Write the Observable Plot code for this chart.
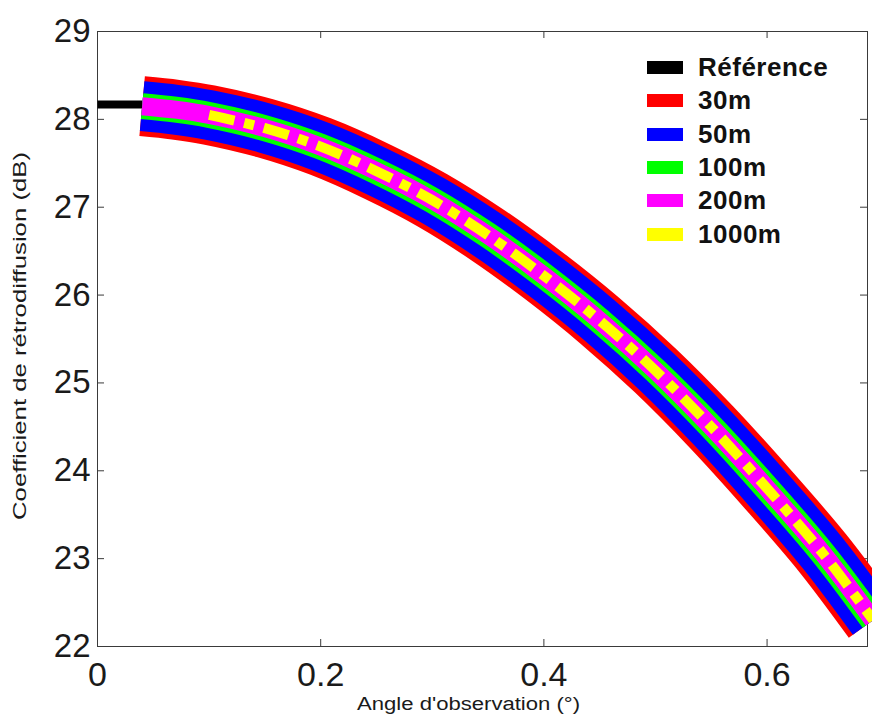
<!DOCTYPE html>
<html>
<head>
<meta charset="utf-8">
<script src="https://cdn.jsdelivr.net/npm/d3@7"></script>
<script src="https://cdn.jsdelivr.net/npm/@observablehq/plot@0.6"></script>
<style>
  html, body { margin: 0; padding: 0; background: #fff; }
  #wrap { position: relative; width: 872px; height: 722px; }
  #legend { position: absolute; left: 647px; top: 51px; font-family: "Liberation Sans", Arial, sans-serif; font-weight: bold; font-size: 26px; letter-spacing: 0.5px; color: #111; }
  #legend .row { height: 33.3px; display: flex; align-items: center; }
  #legend .sw { width: 36px; height: 13px; margin-right: 15px; }
</style>
</head>
<body>
<div id="wrap"><div id="legend"></div></div>
<script>
// ---- data ----
const refAngles = [0, 0.04];
const refCoef = [28.17, 28.17];

// distances 30m, 50m, 100m, 200m share the same curve (overlapping bands)
const angles = [0.04, 0.07, 0.10, 0.15, 0.20, 0.25, 0.30, 0.35, 0.40, 0.45, 0.50, 0.55, 0.60, 0.65, 0.695];
const coef30 = [28.15, 28.11, 28.05, 27.90, 27.69, 27.41, 27.08, 26.68, 26.22, 25.71, 25.14, 24.50, 23.80, 23.06, 22.30];
const coef50 = [28.15, 28.11, 28.05, 27.90, 27.69, 27.41, 27.08, 26.68, 26.22, 25.71, 25.14, 24.50, 23.80, 23.06, 22.30];
const coef100 = [28.15, 28.11, 28.05, 27.90, 27.69, 27.41, 27.08, 26.68, 26.22, 25.71, 25.14, 24.50, 23.80, 23.06, 22.30];
const coef200 = [28.15, 28.11, 28.05, 27.90, 27.69, 27.41, 27.08, 26.68, 26.22, 25.71, 25.14, 24.50, 23.80, 23.06, 22.30];
const angles1000 = [0.10, 0.15, 0.20, 0.25, 0.30, 0.35, 0.40, 0.45, 0.50, 0.55, 0.60, 0.65, 0.695];
const coef1000 = [28.05, 27.90, 27.69, 27.41, 27.08, 26.68, 26.22, 25.71, 25.14, 24.50, 23.80, 23.06, 22.30];

const xTicks = [0, 0.2, 0.4, 0.6];
const yTicks = [22, 23, 24, 25, 26, 27, 28, 29];
const legendNames = ["Référence", "30m", "50m", "100m", "200m", "1000m"];
const xLabel = "Angle d'observation (°)";
const yLabel = "Coefficient de rétrodiffusion (dB)";

// ---- styles ----
const legendColors = ["#000000", "#ff0000", "#0000ff", "#00ff00", "#ff00ff", "#ffff00"];

const toRows = (xs, ys) => xs.map((x, i) => ({x, y: ys[i]}));

const W = 872, H = 722, mL = 97, mR = 5, mT = 31, mB = 76;
const fw = W - mL - mR, fh = H - mT - mB;
const axisColor = "#3a3a3a";

const lineOpts = (width, color, extra = {}) => ({
  x: "x", y: "y", stroke: color, strokeWidth: width,
  strokeLinecap: "butt", strokeLinejoin: "round", curve: "catmull-rom", ...extra
});

const chart = Plot.plot({
  width: W, height: H,
  marginLeft: mL, marginRight: mR, marginTop: mT, marginBottom: mB,
  style: {fontFamily: "Liberation Sans, Arial, sans-serif", background: "white", color: "#1a1a1a", overflow: "visible"},
  x: {domain: [0, 0.69]},
  y: {domain: [22, 29]},
  marks: [
    Plot.frame({stroke: axisColor, strokeWidth: 1}),
    // inward ticks on all four sides (MATLAB box)
    Plot.tickX(xTicks, {x: d => d, insetTop: fh - 7, stroke: axisColor}),
    Plot.tickX(xTicks, {x: d => d, insetBottom: fh - 7, stroke: axisColor}),
    Plot.tickY(yTicks, {y: d => d, insetRight: fw - 7, stroke: axisColor}),
    Plot.tickY(yTicks, {y: d => d, insetLeft: fw - 7, stroke: axisColor}),
    Plot.axisX({ticks: xTicks, tickSize: 0, tickPadding: 15, fontSize: 34, tickFormat: d => String(d), label: null}),
    Plot.axisY({ticks: yTicks, tickSize: 0, tickPadding: 7, fontSize: 33, tickFormat: d => String(d), label: null}),
    Plot.text([xLabel], {text: d => d, frameAnchor: "bottom", dy: 58, dx: -14, fontSize: 18, textAnchor: "middle", lineAnchor: "middle", fill: "#1a1a1a"}),
    Plot.text([yLabel], {text: d => d, frameAnchor: "left", rotate: -90, dx: -77, dy: -3, fontSize: 18, textAnchor: "middle", lineAnchor: "middle", fill: "#1a1a1a"}),
    // curves
    Plot.line(toRows(refAngles, refCoef), lineOpts(8, legendColors[0])),
    Plot.line(toRows(angles, coef30), lineOpts(60, legendColors[1])),
    Plot.line(toRows(angles, coef50), lineOpts(50, legendColors[2])),
    Plot.line(toRows(angles, coef100), lineOpts(26, legendColors[3])),
    Plot.line(toRows(angles, coef200), lineOpts(18, legendColors[4])),
    Plot.line(toRows(angles1000, coef1000), lineOpts(10, legendColors[5], {strokeDasharray: "26,10,10,10"}))
  ]
});

const wrap = document.getElementById("wrap");
wrap.insertBefore(chart, wrap.firstChild);

// stretch axis titles to the reference's text length
d3.select(chart).selectAll("text").each(function() {
  const t = this.textContent;
  if (t === xLabel) { this.setAttribute("textLength", "223"); this.setAttribute("lengthAdjust", "spacingAndGlyphs"); }
  if (t === yLabel) { this.setAttribute("textLength", "368"); this.setAttribute("lengthAdjust", "spacingAndGlyphs"); }
});

// legend
const legend = d3.select("#legend");
legendNames.forEach((name, i) => {
  const row = legend.append("div").attr("class", "row");
  row.append("div").attr("class", "sw").style("background", legendColors[i]);
  row.append("span").text(name);
});
</script>
</body>
</html>
